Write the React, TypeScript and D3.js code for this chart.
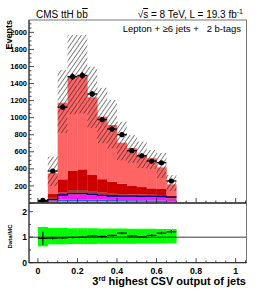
import React from 'react';
import * as d3 from 'd3';

// bins of the 3rd highest CSV output (lower edges, width 0.05)
const binLow = [0, 0.05, 0.1, 0.15, 0.2, 0.25, 0.3, 0.35, 0.4, 0.45, 0.5, 0.55, 0.6, 0.65];
const binWidth = 0.05;

// stacked MC contributions per bin
const ewk = [2, 6, 20, 23, 23, 22, 20, 18, 17, 16, 15, 14, 13, 8];
const ttV = [2, 8, 20, 20, 20, 20, 18, 18, 17, 17, 17, 17, 17, 12];
const singleT = [4, 16, 52, 59, 59, 56, 50, 44, 44, 43, 42, 41, 40, 30];
const ttbb = [4, 30, 29, 50, 50, 43, 33, 28, 26, 24, 24, 24, 24, 15];
const ttb = [2, 45, 157, 223, 243, 187, 158, 142, 123, 105, 89, 76, 70, 23];
const ttlf = [6, 243, 898, 1115, 1105, 911, 733, 664, 480, 436, 376, 352, 254, 131];

// ttH signal line (not stacked)
const signal = [18, 40, 94, 109, 109, 102, 90, 82, 80, 80, 78, 78, 76, 70];

// data
const dataCounts = [30, 375, 1124, 1481, 1495, 1278, 978, 867, 801, 613, 553, 492, 472, 258];

// MC uncertainty band
const bandHi = [20, 543, 1560, 1970, 1970, 1598, 1350, 1207, 953, 797, 719, 621, 586, 328];
const bandLo = [8, 200, 820, 1040, 1050, 880, 700, 640, 500, 470, 410, 400, 290, 140];

// ratio panel
const ratio = [0.95, 0.96, 0.97, 0.99, 1.0, 1.05, 1.03, 1.07, 1.16, 1.05, 1.01, 1.07, 1.16, 1.21];
const ratioErr = [0.26, 0.05, 0.03, 0.03, 0.03, 0.03, 0.03, 0.03, 0.04, 0.04, 0.04, 0.05, 0.05, 0.07];
const ratioBandHi = [1.4, 1.36, 1.36, 1.35, 1.35, 1.35, 1.34, 1.34, 1.34, 1.33, 1.33, 1.33, 1.32, 1.32];
const ratioBandLo = [0.64, 0.72, 0.72, 0.73, 0.73, 0.73, 0.74, 0.74, 0.74, 0.74, 0.75, 0.75, 0.75, 0.76];

const yTicks = [200, 400, 600, 800, 1000, 1200, 1400, 1600, 1800, 2000];
const ratioTicks = [0, 1, 2];
const xTicks = [0, 0.2, 0.4, 0.6, 0.8, 1];
const xTickLabels = ['0', '0.2', '0.4', '0.6', '0.8', '1'];

const processes = [
  { key: 'ewk', values: ewk, color: '#5fb0e4' },
  { key: 'ttV', values: ttV, color: '#3a5fd6' },
  { key: 'singleT', values: singleT, color: '#ff14ff' },
  { key: 'ttbb', values: ttbb, color: '#a03c3c' },
  { key: 'ttb', values: ttb, color: '#cc0000' },
  { key: 'ttlf', values: ttlf, color: '#ff6464' },
];

const FONT = '"Liberation Sans", Arial, Helvetica, sans-serif';

const L = 29, R = 246.5, T = 20, B = 203, RB = 262.7;

export default function App() {
  const x = d3.scaleLinear().domain([-0.045, 1.055]).range([L, R]);
  const y = d3.scaleLinear().domain([0, 2145]).range([B, T]);
  const yr = d3.scaleLinear().domain([0, 2.34]).range([RB, B]);

  const rows = binLow.map((lo, i) => {
    const r: any = { lo };
    processes.forEach(p => (r[p.key] = p.values[i]));
    return r;
  });
  const stacked = d3.stack().keys(processes.map(p => p.key))(rows);

  const bw = x(binWidth) - x(0);

  const sigLine = d3.line<number>()
    .x((_, i) => x(i < binLow.length ? binLow[i] : binLow[binLow.length - 1] + binWidth))
    .y(v => y(v))
    .curve(d3.curveStepAfter);
  const sigPts = [...signal, signal[signal.length - 1]];

  const yMinor = d3.range(0, 2150, 50);
  const xMinor = d3.range(0, 1.051, 0.05);
  const rMinor = d3.range(0, 2.34, 0.5);

  return (
    <svg width={258} height={290} style={{ display: 'block', position: 'absolute', left: 0, top: 0 }} fontFamily={FONT}>
      <defs>
        <pattern id="hatch" width={3.6} height={10} patternUnits="userSpaceOnUse" patternTransform="rotate(35)">
          <line x1={0.5} x2={0.5} y1={0} y2={10} stroke="#222" strokeWidth={0.6} />
        </pattern>
      </defs>
      <rect x={0} y={0} width={258} height={290} fill="#fff" />

      {/* stacked MC */}
      {stacked.map((layer, li) => (
        <g key={layer.key} fill={processes[li].color}>
          {layer.map((d, i) => (
            <rect key={i} x={x(binLow[i])} width={bw + 0.3} y={y(d[1])} height={Math.max(0, y(d[0]) - y(d[1]))} />
          ))}
        </g>
      ))}

      {/* signal line */}
      <path d={sigLine(sigPts) || ''} fill="none" stroke="#000090" strokeWidth={1.3} />

      {/* uncertainty band */}
      {binLow.map((lo, i) => (
        <rect key={i} x={x(lo)} width={bw} y={y(bandHi[i])} height={y(bandLo[i]) - y(bandHi[i])} fill="url(#hatch)" />
      ))}

      {/* data */}
      {dataCounts.map((v, i) => {
        const cx = x(binLow[i] + binWidth / 2);
        const e = Math.sqrt(v);
        return (
          <g key={i} stroke="#000" strokeWidth={1.3}>
            <line x1={x(binLow[i])} x2={x(binLow[i] + binWidth)} y1={y(v)} y2={y(v)} />
            <line x1={cx} x2={cx} y1={y(v + e)} y2={y(Math.max(0, v - e))} />
            <circle cx={cx} cy={y(v)} r={2.6} fill="#000" stroke="none" />
          </g>
        );
      })}

      {/* main frame and axes */}
      <rect x={L} y={T} width={R - L} height={B - T} fill="none" stroke="#777" strokeWidth={1} />
      <line x1={L} x2={L} y1={T} y2={B} stroke="#222" />
      {yMinor.map(v => (
        <line key={v} x1={L} x2={L + (v % 200 === 0 ? 5 : 2.5)} y1={y(v)} y2={y(v)} stroke="#222" strokeWidth={0.8} />
      ))}
      {yTicks.map(v => (
        <text key={v} x={27} y={y(v) + 2.6} textAnchor="end" fontSize={7.5} fontWeight="bold">{v}</text>
      ))}
      {xMinor.map((v, i) => (
        <line key={i} x1={x(v)} x2={x(v)} y1={B} y2={B - (i % 4 === 0 ? 5 : 2.5)} stroke="#222" strokeWidth={0.8} />
      ))}
      <text transform={`translate(11.7,${T}) rotate(-90)`} textAnchor="end" fontSize={9} fontWeight="bold">Events</text>

      {/* ratio panel */}
      {binLow.map((lo, i) => (
        <rect key={i} x={x(lo)} width={bw + 0.3} y={yr(ratioBandHi[i])} height={yr(ratioBandLo[i]) - yr(ratioBandHi[i])} fill="#00ff00" />
      ))}
      <line x1={L} x2={R} y1={yr(1)} y2={yr(1)} stroke="#000" strokeWidth={0.8} />
      {ratio.map((v, i) => {
        const cx = x(binLow[i] + binWidth / 2);
        return (
          <g key={i} stroke="#000" strokeWidth={1.1}>
            <line x1={x(binLow[i])} x2={x(binLow[i] + binWidth)} y1={yr(v)} y2={yr(v)} />
            <line x1={cx} x2={cx} y1={yr(v + ratioErr[i])} y2={yr(v - ratioErr[i])} />
          </g>
        );
      })}
      <rect x={L} y={B} width={R - L} height={RB - B} fill="none" stroke="#777" strokeWidth={1} />
      <line x1={L} x2={L} y1={B} y2={RB} stroke="#222" />
      <line x1={L} x2={R} y1={B} y2={B} stroke="#111" strokeWidth={1.2} />
      <line x1={L} x2={R} y1={RB} y2={RB} stroke="#222" />
      {rMinor.map(v => (
        <line key={v} x1={L} x2={L + (v % 1 === 0 ? 4 : 2)} y1={yr(v)} y2={yr(v)} stroke="#222" strokeWidth={0.8} />
      ))}
      {ratioTicks.map(v => (
        <text key={v} x={27} y={yr(v) + 3} textAnchor="end" fontSize={8.5} fontWeight="bold">{v}</text>
      ))}
      {xMinor.map((v, i) => (
        <line key={i} x1={x(v)} x2={x(v)} y1={RB} y2={RB - (i % 4 === 0 ? 4.5 : 2.2)} stroke="#222" strokeWidth={0.8} />
      ))}
      {xTicks.map((v, i) => (
        <text key={v} x={x(v)} y={274} textAnchor="middle" fontSize={8.8} fontWeight="bold">{xTickLabels[i]}</text>
      ))}
      <text transform={`translate(11.7,236.5) rotate(-90)`} textAnchor="middle" fontSize={6} fontWeight="bold">Data/MC</text>
      <text x={246} y={285} textAnchor="end" fontSize={11} fontWeight="bold">
        3<tspan fontSize={7} dy={-4}>rd</tspan><tspan dy={4}> highest CSV output of jets</tspan>
      </text>

      {/* header texts */}
      <text x={36} y={18} fontSize={10}>
        CMS ttH b<tspan style={{ textDecoration: 'overline' }}>b</tspan>
      </text>
      <text x={243} y={18} textAnchor="end" fontSize={10}>
        √<tspan style={{ textDecoration: 'overline' }}>s</tspan> = 8 TeV, L = 19.3 fb<tspan fontSize={7} dy={-4}>-1</tspan>
      </text>
      <text x={241} y={31.5} textAnchor="end" fontSize={9.5} style={{ whiteSpace: 'pre' }}>
        Lepton + ≥6 jets +   2 b-tags
      </text>
    </svg>
  );
}
